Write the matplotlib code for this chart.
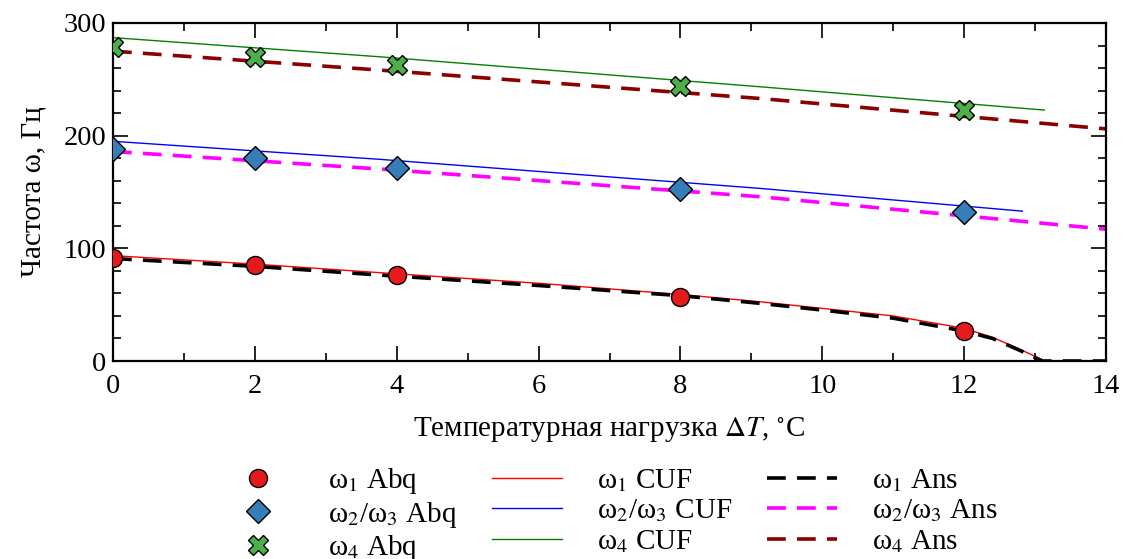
import matplotlib

matplotlib.use("Agg")
import matplotlib.pyplot as plt
from matplotlib.ticker import MultipleLocator

plt.rcParams["font.family"] = ["Liberation Serif", "DejaVu Serif"]
plt.rcParams["mathtext.fontset"] = "stix"

# Abaqus reference points
t_abq = [0, 2, 4, 8, 12]
w1_abq = [91.4, 85, 76, 57, 26.6]
w23_abq = [188, 180, 171, 153, 132]
w4_abq = [279, 270, 263, 244, 223]

# CUF curves
t_cuf1 = [0, 2, 3.76, 6, 8, 9.12, 10, 11, 12, 12.4, 12.8, 13.14]
w1_cuf = [93.5, 86, 78.4, 69, 59, 52.6, 46.7, 40, 29, 21, 10, 0]
t_cuf23 = [0, 3.76, 9.12, 12.82]
w23_cuf = [195, 179, 153.2, 133]
t_cuf4 = [0, 3.76, 9.12, 13.13]
w4_cuf = [287, 270, 243.4, 222.7]

# Ansys curves
t_ans1 = [0, 2, 3.76, 6, 8, 9.12, 10, 11, 12, 12.4, 12.8, 13.1, 14]
w1_ans = [91, 84, 76.3, 67, 58, 51.2, 45.2, 38, 26.6, 20, 9, 0, 0]
t_ans23 = [0, 3.76, 9.12, 14]
w23_ans = [186, 170.4, 145.8, 117]
t_ans4 = [0, 3.76, 9.12, 14]
w4_ans = [275, 258.2, 233, 206]

fig = plt.figure(figsize=(11.23, 5.59), dpi=100)
ax = fig.add_axes([0.1006, 0.3542, 0.8843, 0.6047])

dash = (0, (5.2, 3.1))
mk = dict(linestyle="none", markeredgecolor="black", markeredgewidth=1.0, zorder=5)

h_abq1, = ax.plot(t_abq, w1_abq, marker="o", markersize=13, color="#e41a1c", label="ω$_1$ Abq", **mk)
h_abq23, = ax.plot(t_abq, w23_abq, marker="D", markersize=12, color="#377eb8", label="ω$_2$/ω$_3$ Abq", **mk)
h_abq4, = ax.plot(t_abq, w4_abq, marker="X", markersize=14, color="#4daf4a", label="ω$_4$ Abq", **mk)

h_cuf1, = ax.plot(t_cuf1, w1_cuf, color="#ff0000", lw=1.0, label="ω$_1$ CUF")
h_cuf23, = ax.plot(t_cuf23, w23_cuf, color="#0000ff", lw=1.0, label="ω$_2$/ω$_3$ CUF")
h_cuf4, = ax.plot(t_cuf4, w4_cuf, color="#008000", lw=1.0, label="ω$_4$ CUF")

h_ans1, = ax.plot(t_ans1, w1_ans, color="black", lw=2.6, linestyle=dash, label="ω$_1$ Ans")
h_ans23, = ax.plot(t_ans23, w23_ans, color="#ff00ff", lw=2.6, linestyle=dash, label="ω$_2$/ω$_3$ Ans")
h_ans4, = ax.plot(t_ans4, w4_ans, color="#8b0000", lw=2.6, linestyle=dash, label="ω$_4$ Ans")

ax.set_xlim(0, 14)
ax.set_ylim(0, 300)
ax.xaxis.set_major_locator(MultipleLocator(2))
ax.xaxis.set_minor_locator(MultipleLocator(1))
ax.yaxis.set_major_locator(MultipleLocator(100))
ax.yaxis.set_minor_locator(MultipleLocator(20))
ax.tick_params(which="both", direction="in", top=True, right=True, labelsize=20.5, width=1.2)
ax.tick_params(which="major", length=11)
ax.tick_params(axis="x", which="major", pad=9)
ax.tick_params(axis="y", which="major", pad=5)
ax.tick_params(which="minor", length=5.5)
for s in ax.spines.values():
    s.set_linewidth(1.6)

ax.set_xlabel("Температурная нагрузка $\\Delta T$, $^{\\circ}$C", fontsize=21, labelpad=12)
ax.set_ylabel("Частота ω, Гц", fontsize=21, labelpad=12)

handles = [h_abq1, h_abq23, h_abq4, h_cuf1, h_cuf23, h_cuf4, h_ans1, h_ans23, h_ans4]
fig.legend(
    handles=handles,
    loc="upper left",
    bbox_to_anchor=(223 / 1123, 1 - 466 / 559),
    ncol=3,
    frameon=False,
    fontsize=21,
    handlelength=2.4,
    handletextpad=1.2,
    columnspacing=1.2,
    labelspacing=0.12,
    borderpad=0,
    borderaxespad=0,
)

fig.savefig("out.png", dpi=100)
